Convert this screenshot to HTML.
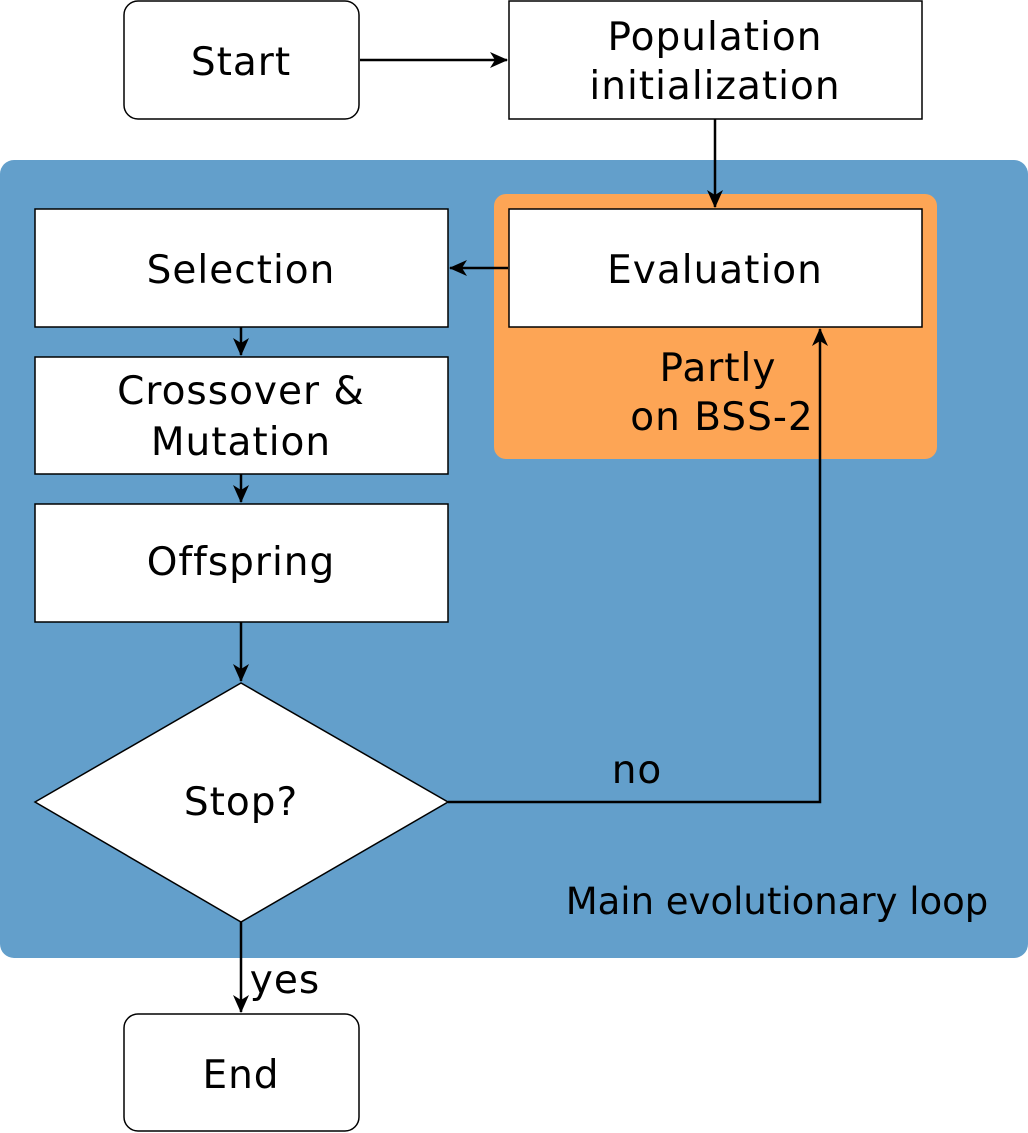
<!DOCTYPE html>
<html><head><style>body{margin:0;background:#fff}svg{display:block}</style></head><body>
<svg width="1028" height="1133" xmlns="http://www.w3.org/2000/svg" font-family="DejaVu Sans, Verdana, sans-serif" font-size="39">
<defs><marker id="a" markerWidth="18" markerHeight="16" refX="17" refY="8" orient="auto" markerUnits="userSpaceOnUse"><path d="M0,0 L18,8 L0,16 L5,8 Z" fill="#000"/></marker></defs>
<rect x="0" y="160" width="1028" height="798" rx="14" fill="#639FCB"/>
<rect x="494" y="194" width="443" height="265" rx="12" fill="#FDA555"/>
<g fill="#fff" stroke="#000" stroke-width="1.5">
<rect x="124" y="1" width="235" height="118" rx="14"/>
<rect x="509" y="1" width="413" height="118"/>
<rect x="509" y="209" width="413" height="118"/>
<rect x="35" y="209" width="413" height="118"/>
<rect x="35" y="357" width="413" height="117"/>
<rect x="35" y="504" width="413" height="118"/>
<polygon points="35,802 241,683 448,802 241,922"/>
<rect x="124" y="1014" width="235" height="117" rx="14"/>
</g>
<g stroke="#000" stroke-width="2.5" fill="none" marker-end="url(#a)">
<line x1="360" y1="60" x2="507" y2="60"/>
<line x1="715" y1="119" x2="715" y2="207"/>
<line x1="508" y1="268" x2="450" y2="268"/>
<line x1="241" y1="327" x2="241" y2="355"/>
<line x1="241" y1="474" x2="241" y2="502"/>
<line x1="241" y1="622" x2="241" y2="681"/>
<polyline points="448,802 820,802 820,329"/>
<line x1="241" y1="922" x2="241" y2="1012"/>
</g>
<g text-anchor="middle" fill="#000" letter-spacing="1">
<text x="241" y="75">Start</text>
<text x="715" y="50">Population</text>
<text x="715" y="99">initialization</text>
<text x="715" y="283">Evaluation</text>
<text x="241" y="283">Selection</text>
<text x="241" y="404">Crossover &amp;</text>
<text x="241" y="455">Mutation</text>
<text x="241" y="575">Offspring</text>
<text x="241" y="815">Stop?</text>
<text x="241" y="1088">End</text>
<text x="718" y="381">Partly</text>
<text x="722" y="430">on BSS-2</text>
<text x="637" y="783">no</text>
<text x="285" y="993">yes</text>
</g>
<text x="777" y="914" text-anchor="middle" font-size="37" fill="#000">Main evolutionary loop</text>
</svg>
</body></html>
